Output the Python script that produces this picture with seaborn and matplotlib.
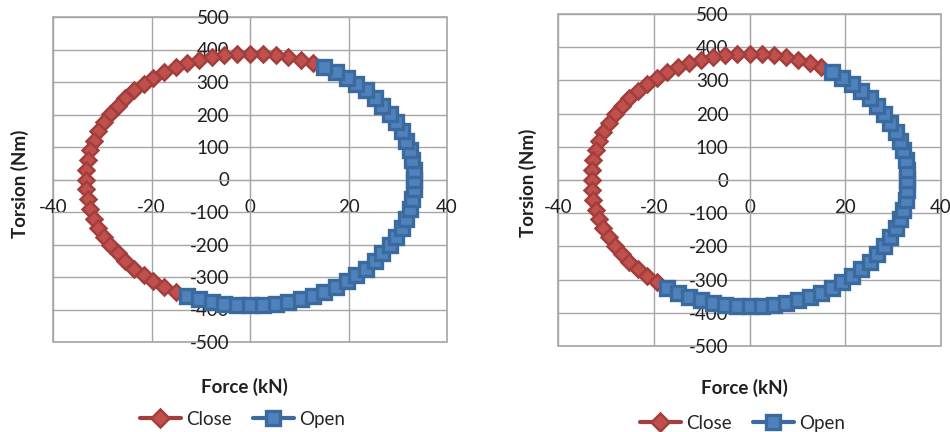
import matplotlib
matplotlib.use("Agg")
import matplotlib.pyplot as plt
import seaborn as sns
from matplotlib.patches import Rectangle
from matplotlib.lines import Line2D

# ---- data (Force in kN, Torsion in Nm) ----
# left panel
close_force_a = [12.7, 10.3, 7.8, 5.2, 2.6, 0.0, -2.6, -5.2, -7.8, -10.3, -12.7, -15.1, -17.4,
                 -19.6, -21.6, -23.5, -25.3, -26.9, -28.4, -29.7, -30.8, -31.7, -32.4, -32.9,
                 -33.2, -33.3, -33.2, -32.9, -32.4, -31.7, -30.8, -29.7, -28.4, -26.9, -25.3,
                 -23.5, -21.6, -19.6, -17.4, -15.1]
close_torsion_a = [358, 368, 376, 382, 386, 387, 386, 382, 376, 368, 358, 345, 330,
                   313, 294, 274, 251, 227, 202, 176, 148, 120, 90, 61,
                   30, 0, -30, -61, -90, -120, -148, -176, -202, -227, -251,
                   -274, -294, -313, -330, -345]
open_force_a = [-12.7, -10.3, -7.8, -5.2, -2.6, 0.0, 2.6, 5.2, 7.8, 10.3, 12.7, 15.1, 17.4,
                19.6, 21.6, 23.5, 25.3, 26.9, 28.4, 29.7, 30.8, 31.7, 32.4, 32.9,
                33.2, 33.3, 33.2, 32.9, 32.4, 31.7, 30.8, 29.7, 28.4, 26.9, 25.3,
                23.5, 21.6, 19.6, 17.4, 15.1]
open_torsion_a = [-358, -368, -376, -382, -386, -387, -386, -382, -376, -368, -358, -345, -330,
                  -313, -294, -274, -251, -227, -202, -176, -148, -120, -90, -61,
                  -30, 0, 30, 61, 90, 120, 148, 176, 202, 227, 251,
                  274, 294, 313, 330, 345]

# right panel
close_force_b = [15.0, 12.6, 10.2, 7.7, 5.2, 2.6, 0.0, -2.6, -5.2, -7.7, -10.2, -12.6, -15.0,
                 -17.2, -19.4, -21.4, -23.3, -25.1, -26.7, -28.1, -29.4, -30.5, -31.4, -32.1,
                 -32.6, -32.9, -33.0, -32.9, -32.6, -32.1, -31.4, -30.5, -29.4, -28.1, -26.7,
                 -25.1, -23.3, -21.4, -19.4]
close_torsion_b = [339, 352, 362, 370, 376, 380, 381, 380, 376, 370, 362, 352, 339,
                   325, 308, 290, 269, 247, 224, 199, 173, 146, 118, 89,
                   60, 30, 0, -30, -60, -89, -118, -146, -173, -199, -224,
                   -247, -269, -290, -308]
open_force_b = [-17.2, -15.0, -12.6, -10.2, -7.7, -5.2, -2.6, 0.0, 2.6, 5.2, 7.7, 10.2, 12.6,
                15.0, 17.2, 19.4, 21.4, 23.3, 25.1, 26.7, 28.1, 29.4, 30.5, 31.4,
                32.1, 32.6, 32.9, 33.0, 32.9, 32.6, 32.1, 31.4, 30.5, 29.4, 28.1,
                26.7, 25.1, 23.3, 21.4, 19.4, 17.2]
open_torsion_b = [-325, -339, -352, -362, -370, -376, -380, -381, -380, -376, -370, -362, -352,
                  -339, -325, -308, -290, -269, -247, -224, -199, -173, -146, -118,
                  -89, -60, -30, 0, 30, 60, 89, 118, 146, 173, 199,
                  224, 247, 269, 290, 308, 325]

x_ticks = [-40, -20, 0, 20, 40]
y_ticks = [-500, -400, -300, -200, -100, 0, 100, 200, 300, 400, 500]

# ---- styling ----
sns.set_style("white")
plt.rcParams['font.family'] = ['Lato', 'DejaVu Sans']
plt.rcParams['axes.unicode_minus'] = False

red_fill, red_edge = "#C0504D", "#A23F3C"
blue_fill, blue_edge = "#4F81BD", "#3B6A9E"
grid_col = "#A6A6A6"
txt_col = "#1F1F1F"

fig = plt.figure(figsize=(9.5, 4.32), dpi=100)
ax1 = fig.add_axes([53 / 950, 1 - 342 / 432, 394 / 950, 325 / 432])
ax2 = fig.add_axes([558 / 950, 1 - 346 / 432, 383 / 950, 332 / 432])

panels = [
    (ax1, close_force_a, close_torsion_a, open_force_a, open_torsion_a,
     (-0.084, 0.486), (0.487, -0.138), (0.481, -0.237)),
    (ax2, close_force_b, close_torsion_b, open_force_b, open_torsion_b,
     (-0.078, 0.491), (0.488, -0.127), (0.482, -0.232)),
]

for ax, cf, ct, of, ot, ylab_pos, xlab_pos, leg_pos in panels:
    sns.lineplot(x=cf, y=ct, sort=False, estimator=None, ax=ax,
                 color=red_edge, linewidth=2.6, marker="D", markersize=8.5,
                 markerfacecolor=red_fill, markeredgecolor=red_edge, markeredgewidth=1.8,
                 zorder=3)
    sns.lineplot(x=of, y=ot, sort=False, estimator=None, ax=ax,
                 color=blue_edge, linewidth=2.6, marker="s", markersize=9.5,
                 markerfacecolor=blue_fill, markeredgecolor=blue_edge, markeredgewidth=2.4,
                 zorder=4)

    ax.set_xlim(-40, 40)
    ax.set_ylim(-500, 500)
    ax.set_xticks(x_ticks)
    ax.set_yticks(y_ticks)
    ax.grid(True, color=grid_col, linewidth=1)
    ax.set_axisbelow(True)

    # axes cross at zero like the spreadsheet chart
    ax.spines['left'].set_position(('data', 0))
    ax.spines['bottom'].set_position(('data', 0))
    ax.spines['top'].set_visible(False)
    ax.spines['right'].set_visible(False)
    ax.spines['left'].set_color(grid_col)
    ax.spines['bottom'].set_color(grid_col)
    ax.add_patch(Rectangle((0, 0), 1, 1, transform=ax.transAxes, fill=False,
                           edgecolor=grid_col, linewidth=1.2, clip_on=False, zorder=0))
    ax.tick_params(axis='both', length=0, labelsize=13.5, colors=txt_col)
    ax.tick_params(axis='y', pad=15)
    ax.tick_params(axis='x', pad=14)

    ax.set_xlabel("Force (kN)", fontsize=13.5, fontweight="bold", color=txt_col, va="center")
    ax.set_ylabel("Torsion (Nm)", fontsize=13.5, fontweight="bold", color=txt_col, va="center")
    ax.xaxis.set_label_coords(*xlab_pos)
    ax.yaxis.set_label_coords(*ylab_pos)

    handles = [
        Line2D([], [], color=red_edge, linewidth=3, marker="D", markersize=9,
               markerfacecolor=red_fill, markeredgecolor=red_edge, markeredgewidth=1.8),
        Line2D([], [], color=blue_edge, linewidth=3, marker="s", markersize=10,
               markerfacecolor=blue_fill, markeredgecolor=blue_edge, markeredgewidth=2.4),
    ]
    ax.legend(handles, ["Close", "Open"], loc="center", bbox_to_anchor=leg_pos, ncol=2,
              frameon=False, fontsize=13.5, handlelength=2.2, handletextpad=0.3,
              columnspacing=1.1, borderaxespad=0)

fig.savefig("out.png", dpi=100)
